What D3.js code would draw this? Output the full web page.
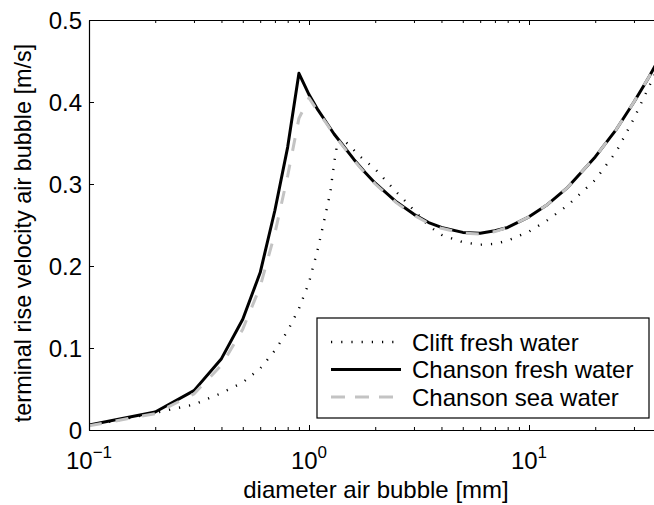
<!DOCTYPE html>
<html>
<head>
<meta charset="utf-8">
<script src="https://cdn.jsdelivr.net/npm/d3@7"></script>
<style>
  body { margin: 0; background: #fff; }
  svg text { font-family: "Liberation Sans", Arial, Helvetica, sans-serif; fill: #000; }
</style>
</head>
<body>
<svg id="chart" width="654" height="505"></svg>
<script>
// Bubble diameter [mm] and terminal rise velocity [m/s] for each model
const diamClift = [0.1, 0.2, 0.3, 0.4, 0.5, 0.6, 0.7, 0.8, 0.9, 1.0, 1.1, 1.2, 1.25, 1.3, 1.35, 1.4, 1.5, 1.7, 2, 2.5, 3, 3.5, 4, 5, 6, 7, 8, 10, 12, 15, 20, 25, 30, 35, 40];
const velClift  = [0.005, 0.021, 0.031, 0.045, 0.058, 0.075, 0.097, 0.121, 0.148, 0.180, 0.222, 0.268, 0.290, 0.325, 0.352, 0.356, 0.349, 0.334, 0.318, 0.290, 0.268, 0.249, 0.238, 0.229, 0.226, 0.227, 0.231, 0.242, 0.255, 0.274, 0.305, 0.340, 0.380, 0.418, 0.450];

const diamChansonFresh = [0.1, 0.2, 0.3, 0.4, 0.5, 0.6, 0.7, 0.8, 0.9, 1.0, 1.1, 1.2, 1.3, 1.4, 1.6, 1.8, 2, 2.5, 3, 3.5, 4, 5, 6, 7, 8, 10, 12, 15, 20, 25, 30, 35, 40];
const velChansonFresh  = [0.006, 0.022, 0.048, 0.087, 0.135, 0.192, 0.268, 0.345, 0.435, 0.409, 0.390, 0.375, 0.361, 0.350, 0.330, 0.314, 0.301, 0.278, 0.263, 0.253, 0.247, 0.241, 0.240, 0.243, 0.247, 0.260, 0.274, 0.296, 0.333, 0.367, 0.400, 0.430, 0.458];

const diamChansonSea = [0.1, 0.2, 0.3, 0.4, 0.5, 0.6, 0.7, 0.8, 0.9, 1.0, 1.1, 1.2, 1.3, 1.4, 1.6, 1.8, 2, 2.5, 3, 3.5, 4, 5, 6, 7, 8, 10, 12, 15, 20, 25, 30, 35, 40];
const velChansonSea  = [0.005, 0.020, 0.044, 0.079, 0.123, 0.175, 0.240, 0.310, 0.380, 0.405, 0.388, 0.374, 0.360, 0.349, 0.329, 0.313, 0.300, 0.277, 0.262, 0.252, 0.246, 0.240, 0.239, 0.242, 0.247, 0.260, 0.274, 0.296, 0.333, 0.367, 0.400, 0.430, 0.458];

const seriesNames = ["Clift fresh water", "Chanson fresh water", "Chanson sea water"];
const xMajorTicks = [0.1, 1, 10];
const xTickExponents = ["\u22121", "0", "1"];
const xMinorTicks = [0.2, 0.3, 0.4, 0.5, 0.6, 0.7, 0.8, 0.9, 2, 3, 4, 5, 6, 7, 8, 9, 20, 30, 40];
const yTicks = [0, 0.1, 0.2, 0.3, 0.4, 0.5];
const xLabel = "diameter air bubble [mm]";
const yLabel = "terminal rise velocity air bubble [m/s]";

const svg = d3.select("#chart");
const plotLeft = 89, plotTop = 20, plotBottom = 430;

const x = d3.scaleLog().domain([0.1, 40]).range([plotLeft, plotLeft + 220 * Math.log10(400)]);
const y = d3.scaleLinear().domain([0, 0.5]).range([plotBottom, plotTop]);
const plotRight = x.range()[1];

svg.append("clipPath").attr("id", "plotClip")
  .append("rect").attr("x", plotLeft).attr("y", plotTop)
  .attr("width", plotRight - plotLeft).attr("height", plotBottom - plotTop);

// Data lines
const line = d3.line().x(d => x(d[0])).y(d => y(d[1]));
const zip = (a, b) => a.map((v, i) => [v, b[i]]);

const styles = [
  { stroke: "#000", width: 2.4, dash: "1.2,9" },
  { stroke: "#000", width: 3, dash: null },
  { stroke: "#c3c3c3", width: 3, dash: "13,14" }
];
const seriesData = [
  zip(diamClift, velClift),
  zip(diamChansonFresh, velChansonFresh),
  zip(diamChansonSea, velChansonSea)
];

const plot = svg.append("g").attr("clip-path", "url(#plotClip)");
seriesData.forEach((data, i) => {
  plot.append("path")
    .datum(data)
    .attr("d", line)
    .attr("fill", "none")
    .attr("stroke", styles[i].stroke)
    .attr("stroke-width", styles[i].width)
    .attr("stroke-linejoin", "round")
    .attr("stroke-dasharray", styles[i].dash);
});

// Axes (inward ticks, boxed)
const axisStyle = g => {
  g.select(".domain").attr("stroke", "#000").attr("stroke-width", 1.2);
  g.selectAll(".tick line").attr("stroke", "#000").attr("stroke-width", 1);
};

svg.append("g").attr("transform", `translate(0,${plotBottom})`)
  .call(d3.axisBottom(x).tickValues(xMajorTicks).tickSize(-5).tickSizeOuter(0).tickFormat(() => ""))
  .call(axisStyle);
svg.append("g").attr("transform", `translate(0,${plotBottom})`)
  .call(d3.axisBottom(x).tickValues(xMinorTicks).tickSize(-3).tickSizeOuter(0).tickFormat(() => ""))
  .call(axisStyle);
svg.append("g").attr("transform", `translate(0,${plotTop})`)
  .call(d3.axisTop(x).tickValues(xMajorTicks).tickSize(-5).tickSizeOuter(0).tickFormat(() => ""))
  .call(axisStyle);
svg.append("g").attr("transform", `translate(0,${plotTop})`)
  .call(d3.axisTop(x).tickValues(xMinorTicks).tickSize(-3).tickSizeOuter(0).tickFormat(() => ""))
  .call(axisStyle);

const gy = svg.append("g").attr("transform", `translate(${plotLeft},0)`)
  .call(d3.axisLeft(y).tickValues(yTicks).tickSize(-5).tickSizeOuter(0).tickFormat(d3.format("")))
  .call(axisStyle);
gy.selectAll(".tick text").attr("font-size", 24).attr("dy", "0.36em").attr("x", -7).attr("fill", "#000");

// Log tick labels with superscript exponents
xMajorTicks.forEach((v, i) => {
  const t = svg.append("text")
    .attr("x", x(v))
    .attr("y", plotBottom + 39)
    .attr("text-anchor", "middle")
    .attr("font-size", 24);
  t.append("tspan").text("10");
  t.append("tspan").attr("dy", -11).attr("font-size", 17).text(xTickExponents[i]);
});

// Axis titles
svg.append("text")
  .attr("x", 376)
  .attr("y", 498)
  .attr("text-anchor", "middle")
  .attr("font-size", 24)
  .text(xLabel);

svg.append("text")
  .attr("transform", `translate(31,233) rotate(-90)`)
  .attr("text-anchor", "middle")
  .attr("font-size", 23.4)
  .text(yLabel);

// Legend
const lg = svg.append("g");
lg.append("rect")
  .attr("x", 317).attr("y", 318).attr("width", 332).attr("height", 100)
  .attr("fill", "#fff").attr("stroke", "#000").attr("stroke-width", 1.2);
seriesNames.forEach((name, i) => {
  const yy = 342 + i * 27.5;
  lg.append("line")
    .attr("x1", 331).attr("x2", 401).attr("y1", yy).attr("y2", yy)
    .attr("stroke", styles[i].stroke)
    .attr("stroke-width", styles[i].width)
    .attr("stroke-dasharray", i === 2 ? "14,10" : styles[i].dash);
  lg.append("text")
    .attr("x", 412).attr("y", yy).attr("dy", "0.36em")
    .attr("font-size", 24)
    .text(name);
});
</script>
</body>
</html>
